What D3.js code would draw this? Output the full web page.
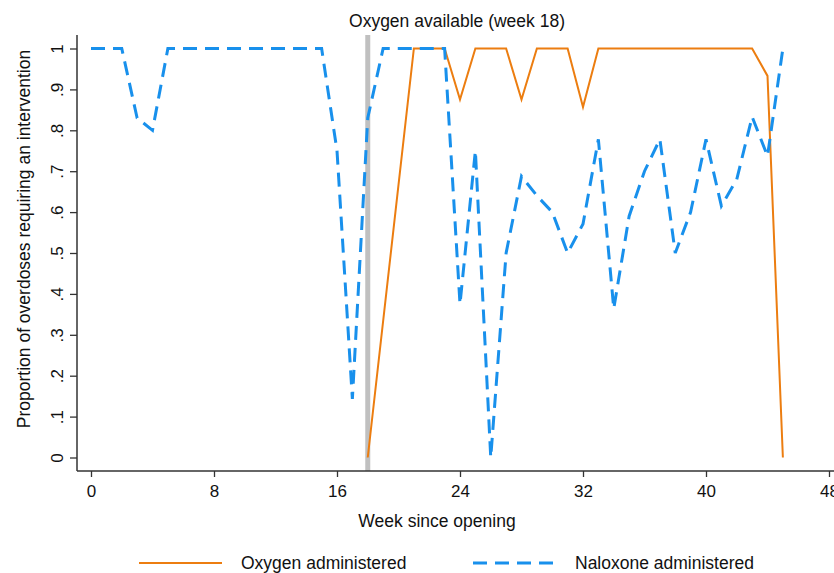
<!DOCTYPE html>
<html>
<head>
<meta charset="utf-8">
<script src="https://cdn.jsdelivr.net/npm/d3@7"></script>
<style>
  body { margin: 0; background: #fff; }
  svg { display: block; font-family: "Liberation Sans", Arial, sans-serif; }
</style>
</head>
<body>
<svg id="chart" width="834" height="573"></svg>
<script>
let width = 834, height = 573;

// Data
let naloxoneWeeks = d3.range(0, 46);
let naloxoneValues = [1, 1, 1, 0.83, 0.8, 1, 1, 1, 1, 1, 1, 1, 1, 1, 1, 1,
  0.75, 0.143, 0.83, 1, 1, 1, 1, 1, 0.375, 0.75, 0, 0.5, 0.6875, 0.64,
  0.6, 0.5, 0.571, 0.778, 0.364, 0.59, 0.7, 0.778, 0.5, 0.6, 0.778, 0.615,
  0.68, 0.833, 0.737, 1];

let oxygenWeeks = [18, 21, 22, 23, 24, 25, 26, 27, 28, 29, 30, 31, 32, 33, 34,
  35, 36, 37, 38, 39, 40, 41, 42, 43, 44, 45];
let oxygenValues = [0, 1, 1, 1, 0.875, 1, 1, 1, 0.875, 1, 1, 1, 0.857, 1, 1,
  1, 1, 1, 1, 1, 1, 1, 1, 1, 0.933, 0];

let xTicks = [0, 8, 16, 24, 32, 40, 48];
let yTicks = [0, 0.1, 0.2, 0.3, 0.4, 0.5, 0.6, 0.7, 0.8, 0.9, 1];
let markerWeek = 18;

let plot = { top: 35, right: 834, bottom: 471, left: 77 };
let orange = "#ec7d10";
let blue = "#1890ec";
let axisCol = "#333";
let fontSize = "17.5px";

let svg = d3.select("#chart")
  .attr("viewBox", [0, 0, width, height]);

// Scales
let xScale = d3.scaleLinear().domain([0, 48]).range([91, 829]);
let yScale = d3.scaleLinear().domain([0, 1]).range([457.5, 48.5]);

// Vertical reference line at week 18
svg.append("line")
  .attr("x1", xScale(markerWeek)).attr("x2", xScale(markerWeek))
  .attr("y1", plot.top).attr("y2", plot.bottom)
  .attr("stroke", "#c0c0c0")
  .attr("stroke-width", 5);

svg.append("text")
  .attr("x", 457)
  .attr("y", 27)
  .attr("text-anchor", "middle")
  .style("font-size", fontSize)
  .attr("fill", "#111")
  .text("Oxygen available (week " + markerWeek + ")");

// Axes
let xAxis = d3.axisBottom(xScale).tickValues(xTicks).tickSize(6).tickPadding(8);
let gx = svg.append("g")
  .attr("transform", `translate(0,${plot.bottom})`)
  .call(xAxis);
gx.select(".domain").remove();
gx.selectAll(".tick line").attr("stroke", axisCol).attr("stroke-width", 1.3);
gx.selectAll(".tick text").style("font-size", "17px").attr("fill", "#111");

let yFmt = d => d === 0 ? "0" : d === 1 ? "1" : d3.format(".1f")(d).replace("0.", ".");
let yAxis = d3.axisLeft(yScale).tickValues(yTicks).tickSize(7).tickFormat(yFmt);
let gy = svg.append("g")
  .attr("transform", `translate(${plot.left},0)`)
  .call(yAxis);
gy.select(".domain").remove();
gy.selectAll(".tick line").attr("stroke", axisCol).attr("stroke-width", 1.3);
gy.selectAll(".tick text")
  .attr("x", null).attr("dy", null)
  .attr("transform", "translate(-14,0) rotate(-90)")
  .attr("text-anchor", "middle")
  .style("font-size", "17px")
  .attr("fill", "#111");

// Axis lines
svg.append("line")
  .attr("x1", plot.left).attr("x2", plot.right)
  .attr("y1", plot.bottom).attr("y2", plot.bottom)
  .attr("stroke", axisCol).attr("stroke-width", 1.5);
svg.append("line")
  .attr("x1", plot.left).attr("x2", plot.left)
  .attr("y1", plot.top).attr("y2", plot.bottom)
  .attr("stroke", axisCol).attr("stroke-width", 1.5);

// Axis titles
svg.append("text")
  .attr("x", 437)
  .attr("y", 527)
  .attr("text-anchor", "middle")
  .style("font-size", fontSize)
  .attr("fill", "#111")
  .text("Week since opening");

svg.append("text")
  .attr("transform", "rotate(-90)")
  .attr("x", -239)
  .attr("y", 30)
  .attr("text-anchor", "middle")
  .style("font-size", fontSize)
  .attr("fill", "#111")
  .text("Proportion of overdoses requiring an intervention");

// Lines
let line = d3.line()
  .x(d => xScale(d[0]))
  .y(d => yScale(d[1]));

svg.append("path")
  .datum(oxygenWeeks.map((w, i) => [w, oxygenValues[i]]))
  .attr("d", line)
  .attr("fill", "none")
  .attr("stroke", orange)
  .attr("stroke-width", 2)
  .attr("stroke-linejoin", "miter");

svg.append("path")
  .datum(naloxoneWeeks.map((w, i) => [w, naloxoneValues[i]]))
  .attr("d", line)
  .attr("fill", "none")
  .attr("stroke", blue)
  .attr("stroke-width", 3)
  .attr("stroke-dasharray", "14,8");

// Legend
let legend = [
  { label: "Oxygen administered", color: orange, width: 2, dash: null, x: 139 },
  { label: "Naloxone administered", color: blue, width: 3, dash: "14,8", x: 473 }
];
let lg = svg.append("g");
legend.forEach(d => {
  lg.append("line")
    .attr("x1", d.x).attr("x2", d.x + 83)
    .attr("y1", 563).attr("y2", 563)
    .attr("stroke", d.color)
    .attr("stroke-width", d.width)
    .attr("stroke-dasharray", d.dash);
  lg.append("text")
    .attr("x", d.x + 102)
    .attr("y", 569)
    .style("font-size", fontSize)
    .attr("fill", "#111")
    .text(d.label);
});
</script>
</body>
</html>
